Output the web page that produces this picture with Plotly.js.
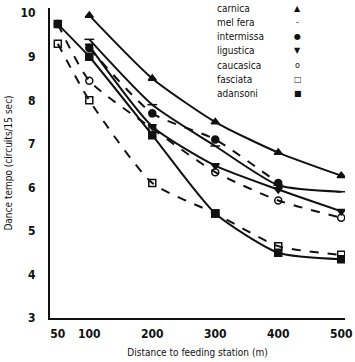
<!DOCTYPE html>
<html><head><meta charset="utf-8">
<script src="https://cdn.plot.ly/plotly-3.0.1.min.js"></script>
<style>html,body{margin:0;padding:0;background:#fff}#chart{width:355px;height:362px}</style>
</head><body><div id="chart"></div>
<script>
const names = ['carnica','mellifera','intermissa','ligustica','caucasica','fasciata','adansoni'];
const legendLabels = ['carnica','mel fera','intermissa','ligustica','caucasica','fasciata','adansoni'];
const legendGlyphs = ['▲','-','●','▼','o','□','■'];

const xCarnica = [100,200,300,400,500];
const yCarnica = [9.95,8.5,7.5,6.8,6.27];
const xMellifera = [100,200,300,400,500];
const yMellifera = [9.4,7.9,6.95,6.05,5.9];
const xIntermissa = [100,200,300,400];
const yIntermissa = [9.2,7.7,7.1,6.1];
const xLigustica = [100,200,300,400,500];
const yLigustica = [9.25,7.4,6.5,5.95,5.45];
const xCaucasica = [50,100,200,300,400,500];
const yCaucasica = [9.75,8.45,7.35,6.35,5.7,5.3];
const xFasciata = [50,100,200,300,400,500];
const yFasciata = [9.3,8.0,6.1,5.4,4.65,4.45];
const xAdansoni = [50,100,200,300,400,500];
const yAdansoni = [9.75,9.0,7.2,5.4,4.5,4.35];

const xTicks = [50,100,200,300,400,500];
const yTicks = [3,4,5,6,7,8,9,10];

const xs = [xCarnica,xMellifera,xIntermissa,xLigustica,xCaucasica,xFasciata,xAdansoni];
const ys = [yCarnica,yMellifera,yIntermissa,yLigustica,yCaucasica,yFasciata,yAdansoni];
const dashes = ['solid','solid','dash','solid','dash','dash','solid'];
const symbols = ['triangle-up','line-ew-open','circle','triangle-down','circle-open','square-open','square'];

const traces = names.map((n,i)=>({
  type:'scatter', mode:'lines+markers', name:n, x:xs[i], y:ys[i],
  line:{color:'#111', width:2, dash:dashes[i], shape:'spline', smoothing:0.6},
  marker:{symbol:symbols[i], size:7, color:'#111', line:{color:'#111', width:1.5}},
  showlegend:false
}));

const annotations = [];
legendLabels.forEach((t,i)=>{
  annotations.push({xref:'paper', yref:'paper', x:0.56, y:1.0 - i*0.046, xanchor:'left', yanchor:'middle',
    text:t, showarrow:false, font:{family:'DejaVu Sans Condensed, DejaVu Sans', size:10, color:'#111'}});
  annotations.push({xref:'paper', yref:'paper', x:0.84, y:1.0 - i*0.046, xanchor:'center', yanchor:'middle',
    text:legendGlyphs[i], showarrow:false, font:{family:'DejaVu Sans', size:8, color:'#111'}});
});

const layout = {
  width:355, height:362,
  margin:{l:50, r:10, t:8, b:44},
  paper_bgcolor:'#fff', plot_bgcolor:'#fff',
  showlegend:false,
  font:{family:'DejaVu Sans Condensed, DejaVu Sans', color:'#111'},
  xaxis:{range:[37.6,506], tickvals:xTicks, ticktext:xTicks.map(String), showgrid:false, zeroline:false,
    showline:true, linecolor:'#111', linewidth:2, ticks:'', ticklabelstandoff:4, ticklabeloverflow:'allow',
    tickfont:{size:12, weight:'bold', family:'DejaVu Sans Condensed, DejaVu Sans'},
    title:{text:'Distance to feeding station (m)', font:{size:10}, standoff:9}},
  yaxis:{range:[3,10.12], tickvals:yTicks, ticktext:yTicks.map(String), showgrid:false, zeroline:false,
    showline:true, linecolor:'#111', linewidth:2, ticks:'', ticklabelstandoff:10,
    tickfont:{size:12, weight:'bold', family:'DejaVu Sans Condensed, DejaVu Sans'},
    title:{text:'Dance tempo (circuits/15 sec)', font:{size:10}, standoff:6}},
  annotations:annotations
};

Plotly.newPlot('chart', traces, layout, {displayModeBar:false, staticPlot:true});
</script></body></html>
